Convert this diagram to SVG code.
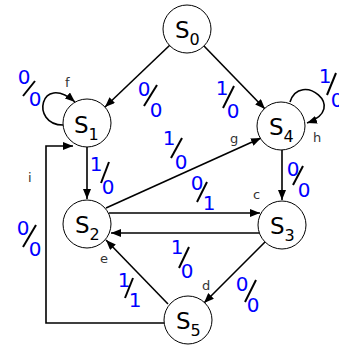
<svg xmlns="http://www.w3.org/2000/svg" width="339" height="345" viewBox="0 0 339 345">
<style>
.node circle{fill:#fff;stroke:#000;stroke-width:1}
.node text{font-family:"DejaVu Sans",sans-serif;font-size:23px;fill:#000}
.sub{font-size:16px}
.edge{fill:none;stroke:#000;stroke-width:1.6;marker-end:url(#arr)}
.lt{font-family:"DejaVu Sans",sans-serif;font-size:13px;fill:#333}
.d{font-family:"DejaVu Sans",sans-serif;font-size:20px;fill:#0000ff;text-anchor:middle}
.sl{stroke:#000;stroke-width:2}
</style>
<defs>
<marker id="arr" viewBox="0 0 10 8" refX="10" refY="4" markerWidth="10" markerHeight="8" markerUnits="userSpaceOnUse" orient="auto">
<path d="M0,0 L10,4 L0,8 z" fill="#000"/>
</marker>
</defs>
<g id="connectors">
<line class="edge" x1="170" y1="45" x2="105" y2="107"/>
<line class="edge" x1="204" y1="46" x2="265" y2="109"/>
<line class="edge" x1="87" y1="147" x2="87" y2="199"/>
<line class="edge" x1="106" y1="208" x2="261" y2="138"/>
<line class="edge" x1="109" y1="213" x2="260" y2="213"/>
<line class="edge" x1="259" y1="233" x2="111" y2="233"/>
<line class="edge" x1="282" y1="150" x2="282" y2="200"/>
<line class="edge" x1="265" y1="242" x2="204" y2="303"/>
<line class="edge" x1="168" y1="304" x2="106" y2="240"/>
<polyline class="edge" points="164,323 46,323 46,146 73,146"/>
<path class="edge" d="M63,125 C30,125 40,72 75,102"/>
<path class="edge" d="M290,102 C300,70 350,108 307,123"/>
<text class="lt" x="65" y="87">f</text>
<text class="lt" x="230" y="143">g</text>
<text class="lt" x="313" y="142">h</text>
<text class="lt" x="253" y="199">c</text>
<text class="lt" x="202" y="290">d</text>
<text class="lt" x="100" y="263">e</text>
<text class="lt" x="28" y="182">i</text>
</g>
<g id="labels">
<text class="d" x="24" y="84">0</text><line class="sl" x1="23" y1="96" x2="35" y2="81"/><text class="d" x="35" y="106">0</text>
<text class="d" x="144" y="96">0</text><line class="sl" x1="144" y1="106" x2="157" y2="85"/><text class="d" x="156" y="117">0</text>
<text class="d" x="222" y="95">1</text><line class="sl" x1="223" y1="108" x2="234" y2="86"/><text class="d" x="233" y="118">0</text>
<text class="d" x="325" y="83">1</text><line class="sl" x1="327" y1="95" x2="336" y2="73"/><text class="d" x="337" y="107">0</text>
<text class="d" x="96" y="171">1</text><line class="sl" x1="101" y1="183" x2="109" y2="162"/><text class="d" x="108" y="194">0</text>
<text class="d" x="169" y="145">1</text><line class="sl" x1="171" y1="158" x2="182" y2="138"/><text class="d" x="181" y="169">0</text>
<text class="d" x="197" y="190">0</text><line class="sl" x1="197" y1="202" x2="207" y2="182"/><text class="d" x="209" y="210">1</text>
<text class="d" x="293" y="176">0</text><line class="sl" x1="293" y1="185" x2="303" y2="166"/><text class="d" x="304" y="197">0</text>
<text class="d" x="177" y="254">1</text><line class="sl" x1="179" y1="268" x2="189" y2="247"/><text class="d" x="187" y="278">0</text>
<text class="d" x="242" y="291">0</text><line class="sl" x1="245" y1="302" x2="256" y2="280"/><text class="d" x="253" y="312">0</text>
<text class="d" x="124" y="287">1</text><line class="sl" x1="125" y1="298" x2="133" y2="278"/><text class="d" x="135" y="307">1</text>
<text class="d" x="23" y="235">0</text><line class="sl" x1="23" y1="247" x2="36" y2="225"/><text class="d" x="35" y="256">0</text>
</g>
<g id="S0" class="node"><circle cx="187" cy="29" r="24"/><text x="175" y="38">S<tspan class="sub" dy="7">0</tspan></text></g>
<g id="S1" class="node"><circle cx="87" cy="123" r="24"/><text x="74" y="133">S<tspan class="sub" dy="7">1</tspan></text></g>
<g id="S4" class="node"><circle cx="281" cy="126" r="24"/><text x="269" y="135">S<tspan class="sub" dy="7">4</tspan></text></g>
<g id="S2" class="node"><circle cx="87" cy="224" r="24"/><text x="75" y="233">S<tspan class="sub" dy="7">2</tspan></text></g>
<g id="S3" class="node"><circle cx="282" cy="225" r="24"/><text x="270" y="234">S<tspan class="sub" dy="7">3</tspan></text></g>
<g id="S5" class="node"><circle cx="188" cy="320" r="24"/><text x="176" y="329">S<tspan class="sub" dy="7">5</tspan></text></g>
</svg>
